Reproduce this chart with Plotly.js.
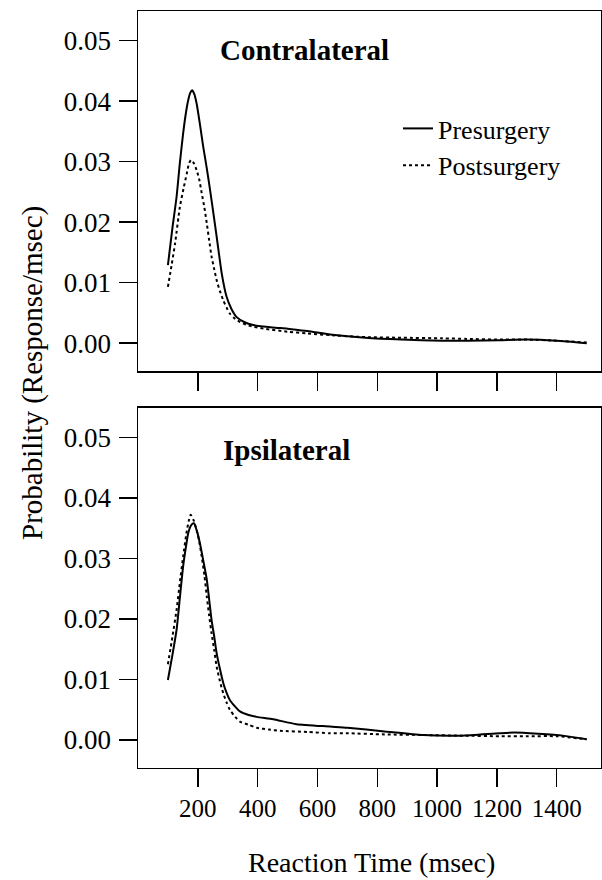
<!DOCTYPE html>
<html>
<head>
<meta charset="utf-8">
<script src="https://cdn.plot.ly/plotly-3.0.1.min.js"></script>
<style>html,body{margin:0;padding:0;background:#fff;}#chart{width:602px;height:880px;}</style>
</head>
<body>
<div id="chart"></div>
<script>
// Contralateral panel
const contraPreX = [100, 115, 129, 140, 151, 160, 168, 175, 181, 188, 196, 207, 218, 230, 241, 252, 263, 272, 280, 296, 312, 330, 355, 385, 450, 500, 567, 650, 760, 880, 1017, 1100, 1210, 1300, 1400, 1500];
const contraPreY = [0.0129, 0.0190, 0.0242, 0.0298, 0.0347, 0.0380, 0.0402, 0.0414, 0.0418, 0.0412, 0.0396, 0.0362, 0.0325, 0.0289, 0.0253, 0.0215, 0.0176, 0.0143, 0.0115, 0.0077, 0.0057, 0.0043, 0.0035, 0.0030, 0.0026, 0.0024, 0.0020, 0.0014, 0.0009, 0.0006, 0.0004, 0.0004, 0.0005, 0.0006, 0.0004, 0.0000];
const contraPostX = [100, 112, 124, 140, 152, 163, 170, 177, 186, 196, 205, 213, 222, 230, 238, 246, 255, 263, 274, 285, 296, 307, 325, 341, 370, 420, 500, 567, 650, 760, 880, 1017, 1100, 1210, 1300, 1400, 1500];
const contraPostY = [0.0093, 0.0128, 0.0165, 0.0225, 0.0255, 0.0280, 0.0296, 0.0303, 0.0298, 0.0286, 0.0270, 0.0248, 0.0224, 0.0198, 0.0170, 0.0143, 0.0122, 0.0104, 0.0086, 0.0071, 0.0059, 0.0049, 0.0040, 0.0035, 0.0029, 0.0024, 0.0019, 0.0016, 0.0013, 0.0010, 0.0009, 0.0008, 0.0007, 0.0006, 0.0006, 0.0004, 0.0001];

// Ipsilateral panel
const ipsiPreX = [100, 115, 129, 140, 151, 160, 168, 178, 187, 197, 207, 218, 230, 238, 246, 255, 263, 274, 285, 296, 307, 325, 341, 370, 397, 452, 530, 642, 700, 824, 953, 1081, 1210, 1260, 1338, 1420, 1500];
const ipsiPreY = [0.0099, 0.0140, 0.0182, 0.0235, 0.0287, 0.0318, 0.0342, 0.0355, 0.0358, 0.0345, 0.0325, 0.0297, 0.0265, 0.0232, 0.0198, 0.0170, 0.0143, 0.0117, 0.0094, 0.0078, 0.0066, 0.0055, 0.0047, 0.0041, 0.0038, 0.0034, 0.0026, 0.0022, 0.0020, 0.0014, 0.0008, 0.0007, 0.0011, 0.0012, 0.0010, 0.0007, 0.0001];
const ipsiPostX = [100, 115, 129, 140, 151, 163, 170, 176, 186, 196, 205, 213, 222, 230, 238, 246, 255, 263, 274, 285, 296, 307, 325, 341, 370, 397, 438, 475, 567, 642, 696, 824, 953, 1081, 1210, 1300, 1400, 1500];
const ipsiPostY = [0.0125, 0.0170, 0.0215, 0.0260, 0.0303, 0.0345, 0.0362, 0.0372, 0.0363, 0.0347, 0.0327, 0.0303, 0.0272, 0.0237, 0.0205, 0.0176, 0.0148, 0.0121, 0.0097, 0.0077, 0.0062, 0.0050, 0.0038, 0.0030, 0.0025, 0.0020, 0.0017, 0.0015, 0.0013, 0.0011, 0.0011, 0.0009, 0.0008, 0.0007, 0.0006, 0.0006, 0.0006, 0.0001];

const xTickVals = [200, 400, 600, 800, 1000, 1200, 1400];
const xTickText = ["200", "400", "600", "800", "1000", "1200", "1400"];
const yTickVals = [0, 0.01, 0.02, 0.03, 0.04, 0.05];
const yTickText = ["0.00", "0.01", "0.02", "0.03", "0.04", "0.05"];
const seriesNames = ["Presurgery", "Postsurgery"];
const panelNames = ["Contralateral", "Ipsilateral"];

const FONT = "Liberation Serif";
const solid = {color: "#000", width: 2, dash: "solid", shape: "spline", smoothing: 0.6};
const dotted = {color: "#000", width: 2, dash: "dot", shape: "spline", smoothing: 0.6};

const traces = [
  {x: contraPreX, y: contraPreY, name: seriesNames[0], mode: "lines", line: solid, xaxis: "x", yaxis: "y", showlegend: true},
  {x: contraPostX, y: contraPostY, name: seriesNames[1], mode: "lines", line: dotted, xaxis: "x", yaxis: "y", showlegend: true},
  {x: ipsiPreX, y: ipsiPreY, name: seriesNames[0], mode: "lines", line: solid, xaxis: "x2", yaxis: "y2", showlegend: false},
  {x: ipsiPostX, y: ipsiPostY, name: seriesNames[1], mode: "lines", line: dotted, xaxis: "x2", yaxis: "y2", showlegend: false}
];

const xCommon = {
  domain: [138/602, 601/602], range: [0, 1548], tickmode: "array", tickvals: xTickVals, ticktext: xTickText,
  ticks: "outside", ticklen: 18, tickwidth: 1.5, tickcolor: "#000",
  showline: true, mirror: true, linecolor: "#000", linewidth: 1.5,
  showgrid: false, zeroline: false, fixedrange: true,
  tickfont: {family: FONT, size: 25, color: "#000"}
};
const yCommon = {
  range: [-0.0046, 0.0549], tickmode: "array", tickvals: yTickVals, ticktext: yTickText,
  ticks: "outside", ticklen: 18, tickwidth: 1.5, tickcolor: "#000",
  showline: true, mirror: true, linecolor: "#000", linewidth: 1.5,
  showgrid: false, zeroline: false, fixedrange: true, ticklabelstandoff: 2,
  tickfont: {family: FONT, size: 27, color: "#000"}
};

const layout = {
  width: 602, height: 880,
  margin: {l: 0, r: 0, t: 0, b: 0},
  font: {family: FONT, color: "#000"},
  paper_bgcolor: "#fff", plot_bgcolor: "#fff",
  showlegend: true,
  legend: {x: 398/602, y: 1 - 105/880, xanchor: "left", yanchor: "top",
    font: {family: FONT, size: 26, color: "#000"}, bgcolor: "rgba(0,0,0,0)", borderwidth: 0, tracegroupgap: 0},
  xaxis: Object.assign({}, xCommon, {anchor: "y", showticklabels: false}),
  yaxis: Object.assign({}, yCommon, {anchor: "x", domain: [1 - 371/880, 1 - 11/880]}),
  xaxis2: Object.assign({}, xCommon, {anchor: "y2", showticklabels: true}),
  yaxis2: Object.assign({}, yCommon, {anchor: "x2", domain: [1 - 767.7/880, 1 - 407.7/880]}),
  annotations: [
    {text: "<b>" + panelNames[0] + "</b>", xref: "paper", yref: "paper", x: 304/602, y: 1 - 50/880, xanchor: "center", yanchor: "middle", showarrow: false,
      font: {family: FONT, size: 29, color: "#000"}},
    {text: "<b>" + panelNames[1] + "</b>", xref: "paper", yref: "paper", x: 286/602, y: 1 - 450/880, xanchor: "center", yanchor: "middle", showarrow: false,
      font: {family: FONT, size: 29, color: "#000"}},
    {text: "Probability (Response/msec)", xref: "paper", yref: "paper", x: 32/602, y: 1 - 373/880, xanchor: "center", yanchor: "middle",
      textangle: -90, showarrow: false, font: {family: FONT, size: 29, color: "#000"}},
    {text: "Reaction Time (msec)", xref: "paper", yref: "paper", x: 371/602, y: 0, xanchor: "center", yanchor: "bottom",
      showarrow: false, font: {family: FONT, size: 28, color: "#000"}}
  ]
};

Plotly.newPlot("chart", traces, layout, {staticPlot: true, displayModeBar: false});
</script>
</body>
</html>
